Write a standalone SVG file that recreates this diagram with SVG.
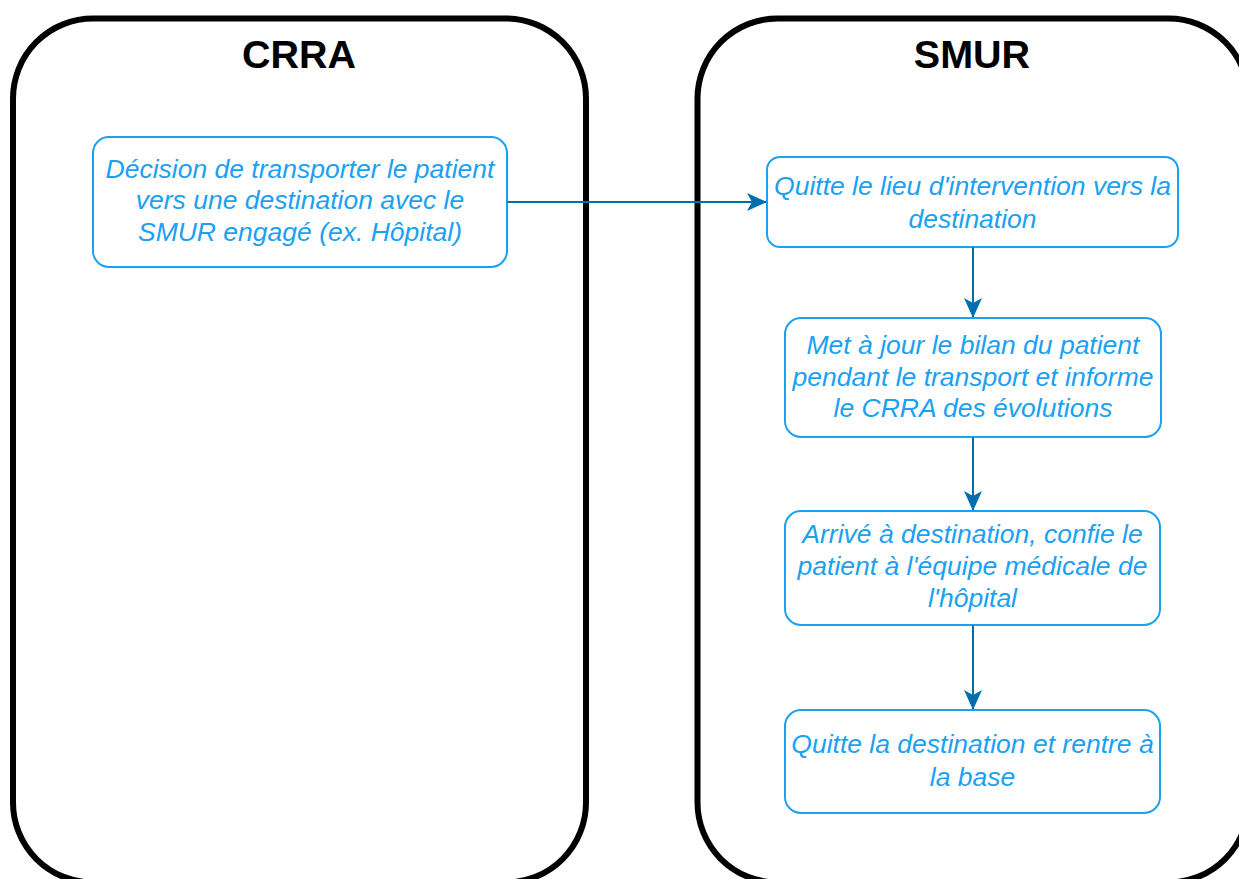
<svg xmlns="http://www.w3.org/2000/svg" width="1239" height="879" viewBox="0 0 1239 879">
<style>
.lane{fill:#ffffff;stroke:#000000;stroke-width:6}
.title{font-family:"Liberation Sans",Arial,sans-serif;font-size:39.5px;font-weight:bold;fill:#000000;text-anchor:middle}
.box{fill:#ffffff;stroke:#1ba1f2;stroke-width:2}
.lbl{font-family:"Liberation Sans",Arial,sans-serif;font-size:26.5px;font-style:italic;fill:#1ba1f2;text-anchor:middle}
.edge{fill:none;stroke:#006eaf;stroke-width:2}
</style>
<defs>
<marker id="arr" viewBox="0 0 20 20" refX="19" refY="10" markerWidth="20" markerHeight="20" markerUnits="userSpaceOnUse" orient="auto">
<path d="M0,1 L20,10 L0,19 L5,10 Z" fill="#006eaf"/>
</marker>
</defs>
<rect width="1239" height="879" fill="#ffffff"/>
<g id="lane-crra">
<rect class="lane" x="13" y="18.5" width="573" height="864" rx="80" ry="80"/>
<text class="title" x="299" y="68">CRRA</text>
</g>
<g id="lane-smur">
<rect class="lane" x="697.5" y="18.5" width="551" height="864" rx="80" ry="80"/>
<text class="title" x="972" y="68">SMUR</text>
</g>
<g id="n1">
<rect class="box" x="93" y="137" width="414" height="130" rx="16" ry="16"/>
<text class="lbl" x="300" y="178">Décision de transporter le patient</text>
<text class="lbl" x="300" y="209">vers une destination avec le</text>
<text class="lbl" x="300" y="241">SMUR engagé (ex. Hôpital)</text>
</g>
<g id="n2">
<rect class="box" x="767" y="157" width="411" height="90" rx="13" ry="13"/>
<text class="lbl" x="972.5" y="195">Quitte le lieu d'intervention vers la</text>
<text class="lbl" x="972.5" y="228">destination</text>
</g>
<g id="n3">
<rect class="box" x="785" y="318" width="376" height="119" rx="16" ry="16"/>
<text class="lbl" x="973" y="354">Met à jour le bilan du patient</text>
<text class="lbl" x="973" y="386">pendant le transport et informe</text>
<text class="lbl" x="973" y="417">le CRRA des évolutions</text>
</g>
<g id="n4">
<rect class="box" x="785" y="511" width="375" height="114" rx="16" ry="16"/>
<text class="lbl" x="972.5" y="543">Arrivé à destination, confie le</text>
<text class="lbl" x="972.5" y="575">patient à l'équipe médicale de</text>
<text class="lbl" x="972.5" y="607">l'hôpital</text>
</g>
<g id="n5">
<rect class="box" x="785" y="710" width="375" height="103" rx="16" ry="16"/>
<text class="lbl" x="972.5" y="753">Quitte la destination et rentre à</text>
<text class="lbl" x="972.5" y="786">la base</text>
</g>
<g id="connectors">
<path class="edge" d="M507,202 L766,202" marker-end="url(#arr)"/>
<path class="edge" d="M973,247 L973,317" marker-end="url(#arr)"/>
<path class="edge" d="M973,437 L973,510" marker-end="url(#arr)"/>
<path class="edge" d="M973,625 L973,709" marker-end="url(#arr)"/>
</g>
</svg>
